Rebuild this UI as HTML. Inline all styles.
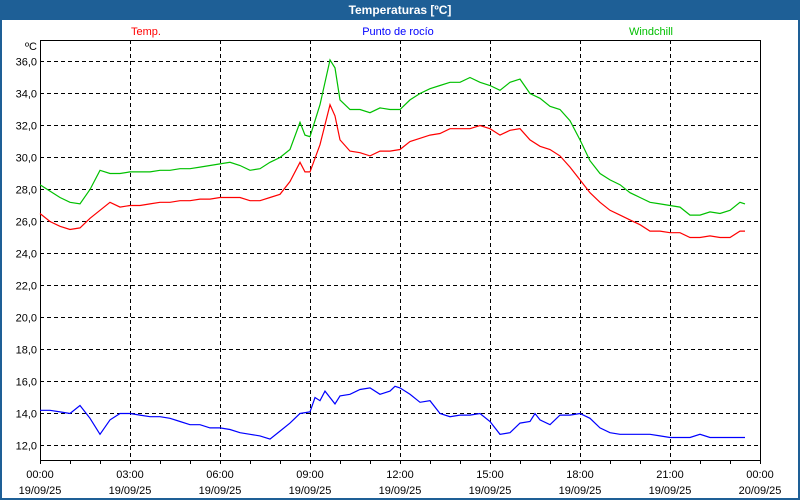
<!DOCTYPE html>
<html><head><meta charset="utf-8"><style>
html,body{margin:0;padding:0;background:#fff}
#wrap{position:relative;width:800px;height:500px;box-sizing:border-box;border:2px solid #1e5f96;border-top:none;background:#fff;font-family:"Liberation Sans",sans-serif}
#title{position:absolute;left:-2px;top:0;width:800px;height:20px;background:#1e5f96;color:#fff;font-weight:bold;font-size:12px;text-align:center;line-height:20px}
svg{position:absolute;left:-2px;top:0}
</style></head><body>
<div id="wrap">
<div id="title">Temperaturas [ºC]</div>
<svg id="chart" width="800" height="500"></svg>
</div>
<script>
const timesT=[0,0.333,0.667,1,1.333,1.667,2,2.333,2.667,3,3.333,3.667,4,4.333,4.667,5,5.333,5.667,6,6.333,6.667,7,7.333,7.667,8,8.333,8.667,8.833,9,9.333,9.667,9.833,10,10.333,10.667,11,11.333,11.667,12,12.333,12.667,13,13.333,13.667,14,14.333,14.667,15,15.333,15.667,16,16.333,16.667,17,17.333,17.667,18,18.333,18.667,19,19.333,19.667,20,20.333,20.667,21,21.333,21.667,22,22.333,22.667,23,23.333,23.5];
const tempVals=[26.5,26.0,25.7,25.5,25.6,26.2,26.7,27.2,26.9,27.0,27.0,27.1,27.2,27.2,27.3,27.3,27.4,27.4,27.5,27.5,27.5,27.3,27.3,27.5,27.7,28.5,29.7,29.1,29.1,30.8,33.3,32.6,31.1,30.4,30.3,30.1,30.4,30.4,30.5,31.0,31.2,31.4,31.5,31.8,31.8,31.8,32.0,31.8,31.4,31.7,31.8,31.1,30.7,30.5,30.1,29.4,28.6,27.8,27.2,26.7,26.4,26.1,25.8,25.4,25.4,25.3,25.3,25.0,25.0,25.1,25.0,25.0,25.4,25.4,25.4];
const chillVals=[28.3,27.9,27.5,27.2,27.1,28.0,29.2,29.0,29.0,29.1,29.1,29.1,29.2,29.2,29.3,29.3,29.4,29.5,29.6,29.7,29.5,29.2,29.3,29.7,30.0,30.5,32.2,31.4,31.3,33.3,36.1,35.6,33.6,33.0,33.0,32.8,33.1,33.0,33.0,33.6,34.0,34.3,34.5,34.7,34.7,35.0,34.7,34.5,34.2,34.7,34.9,34.0,33.7,33.2,33.0,32.3,31.1,29.8,29.0,28.6,28.3,27.8,27.5,27.2,27.1,27.0,26.9,26.4,26.4,26.6,26.5,26.7,27.2,27.1,27.1];
const timesD=[0,0.333,0.667,1,1.333,1.667,2,2.333,2.667,3,3.333,3.667,4,4.333,4.667,5,5.333,5.667,6,6.333,6.667,7,7.333,7.667,8,8.333,8.667,9,9.167,9.333,9.5,9.833,10,10.333,10.667,11,11.333,11.667,11.833,12,12.333,12.667,13,13.333,13.667,14,14.333,14.667,15,15.333,15.667,16,16.333,16.5,16.667,17,17.333,17.667,18,18.333,18.667,19,19.333,19.667,20,20.333,20.667,21,21.333,21.667,22,22.333,22.667,23,23.5];
const dewVals=[14.2,14.2,14.1,14.0,14.5,13.7,12.7,13.6,14.0,14.0,13.9,13.8,13.8,13.7,13.5,13.3,13.3,13.1,13.1,13.0,12.8,12.7,12.6,12.4,12.9,13.4,14.0,14.1,15.0,14.8,15.4,14.6,15.1,15.2,15.5,15.6,15.2,15.4,15.7,15.6,15.2,14.7,14.8,14.0,13.8,13.9,13.9,14.0,13.5,12.7,12.8,13.4,13.5,14.0,13.6,13.3,13.9,13.9,14.0,13.7,13.1,12.8,12.7,12.7,12.7,12.7,12.6,12.5,12.5,12.5,12.7,12.5,12.5,12.5,12.5];
const yTicks=[12,14,16,18,20,22,24,26,28,30,32,34,36];
const xTickHours=[0,3,6,9,12,15,18,21,24];
const xTimeLabels=["00:00","03:00","06:00","09:00","12:00","15:00","18:00","21:00","00:00"];
const xDateLabels=["19/09/25","19/09/25","19/09/25","19/09/25","19/09/25","19/09/25","19/09/25","19/09/25","20/09/25"];

const L=40,R=760,T=40,B=460;
const X=h=>L+h*(R-L)/24;
const Y=v=>61.5+(36-v)*16;
const svg=document.getElementById('chart');
const NS='http://www.w3.org/2000/svg';
function mk(tag,attrs,parent){const e=document.createElementNS(NS,tag);for(const k in attrs)e.setAttribute(k,attrs[k]);(parent||svg).appendChild(e);return e;}

yTicks.forEach(v=>{
  const g=mk('line',{x1:L,x2:R,y1:Y(v),y2:Y(v),stroke:'#000','stroke-dasharray':'4,3','stroke-width':1});
  
  
  const t=mk('text',{x:L-3,y:Y(v)+4,'text-anchor':'end','font-size':11,fill:'#000','font-family':'Liberation Sans, sans-serif'});
  t.textContent=v.toFixed(1).replace('.',',');
  
  
});
for(let h=0;h<=24;h++){
  const tk=mk('line',{x1:X(h)+0.5,x2:X(h)+0.5,y1:B,y2:B+4,stroke:'#000'});
  
  
}
xTickHours.forEach((h,i)=>{
  if(h>0&&h<24){
    const g=mk('line',{x1:X(h)+0.5,x2:X(h)+0.5,y1:T,y2:B,stroke:'#000','stroke-dasharray':'4,3'});
    
    
  }
  const t1=mk('text',{x:X(h),y:478,'text-anchor':'middle','font-size':11,fill:'#000','font-family':'Liberation Sans, sans-serif'});
  t1.textContent=xTimeLabels[i];
  
  
  const t2=mk('text',{x:X(h),y:494,'text-anchor':'middle','font-size':11,fill:'#000','font-family':'Liberation Sans, sans-serif'});
  t2.textContent=xDateLabels[i];
  
  
});
const frame=mk('rect',{x:L+0.5,y:T+0.5,width:R-L,height:B-T,fill:'none',stroke:'#000','stroke-width':1});


const unit=mk('text',{x:L-3,y:50,'text-anchor':'end','font-size':11,fill:'#000','font-family':'Liberation Sans, sans-serif'});
unit.textContent='ºC';



function series(times,vals,color,name){
  const p=mk('polyline',{points:times.map((h,i)=>X(h)+','+Y(vals[i])).join(' '),fill:'none',stroke:color,'stroke-width':1.2});
  
  
}
series(timesT,chillVals,'#00c000','windchill-line');
series(timesT,tempVals,'#ff0000','temp-line');
series(timesD,dewVals,'#0000ff','dew-point-line');

[['Temp.',146,'#ff0000','legend-temp'],['Punto de rocío',398,'#0000ff','legend-dew-point'],['Windchill',651,'#00c000','legend-windchill']].forEach(l=>{
  const t=mk('text',{x:l[1],y:35,'text-anchor':'middle','font-size':11,fill:l[2],'font-family':'Liberation Sans, sans-serif'});
  t.textContent=l[0];
  
  
});
</script>
</body></html>
